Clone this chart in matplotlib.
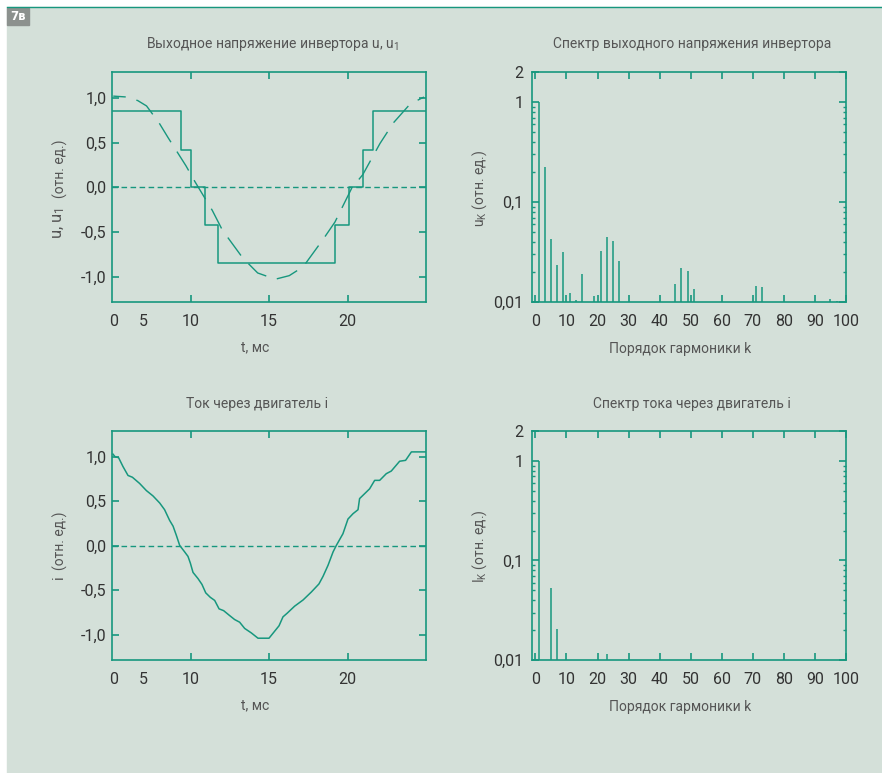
import numpy as np
import matplotlib
matplotlib.use('Agg')
import matplotlib.pyplot as plt
from matplotlib.patches import Rectangle
from matplotlib.lines import Line2D
from matplotlib.ticker import LogLocator, NullFormatter

# --- data ---
# stepped inverter voltage u (levels change at these instants, ms)
t_u = [5, 9.38, 10.03, 10.9, 11.77, 19.2, 20.08, 20.97, 21.64, 25]
u_vals = [0.85, 0.42, 0.0, -0.42, -0.85, -0.42, 0.0, 0.42, 0.85, 0.85]

# fundamental u1 (dashed)
t_u1 = [5.08, 5.94, 6.64, 7.2, 8.0, 8.59, 9.71, 10.29, 11.39, 12.03, 13.32, 14.28,
        15.4, 16.29, 17.18, 18.46, 19.2, 20.27, 20.97, 22.07, 22.92, 23.98, 24.87]
u1_vals = [1.02, 1.01, 0.97, 0.91, 0.72, 0.55, 0.24, 0.06, -0.26, -0.48, -0.79, -0.96,
           -1.03, -0.99, -0.89, -0.58, -0.39, -0.01, 0.14, 0.49, 0.72, 0.93, 1.01]

# motor current i
t_i = [5.06, 5.2, 5.42, 5.7, 6.02, 6.3, 6.76, 7.19, 7.61, 8.04, 8.35, 8.67, 8.89, 9.1,
       9.31, 9.63, 9.84, 9.99, 10.16, 10.48, 10.73, 10.97, 11.26, 11.54, 11.82, 12.11,
       12.49, 12.81, 13.13, 13.45, 13.87, 14.3, 15.0, 15.32, 15.64, 15.89, 16.15, 16.63,
       17.17, 17.7, 18.18, 18.44, 18.76, 19.08, 19.29, 19.71, 20.03, 20.35, 20.67, 20.77,
       21.09, 21.41, 21.73, 22.05, 22.47, 22.79, 23.32, 23.7, 24.07, 25.0]
i_vals = [1.03, 1.0, 0.99, 0.89, 0.79, 0.77, 0.7, 0.62, 0.56, 0.48, 0.405, 0.285, 0.22, 0.116,
          0.004, -0.07, -0.12, -0.195, -0.3, -0.37, -0.435, -0.53, -0.58, -0.615, -0.71, -0.73,
          -0.785, -0.83, -0.86, -0.93, -0.98, -1.04, -1.04, -0.97, -0.9, -0.8, -0.76, -0.68,
          -0.61, -0.52, -0.43, -0.345, -0.22, -0.07, 0.004, 0.135, 0.3, 0.36, 0.405, 0.53,
          0.585, 0.64, 0.735, 0.735, 0.81, 0.84, 0.95, 0.96, 1.055, 1.055]

# spectra
k_u = [1, 3, 5, 7, 9, 11, 13, 15, 19, 21, 23, 25, 27, 45, 47, 49, 51, 71, 73, 95, 97]
uk_vals = [1.0, 0.224, 0.0426, 0.0236, 0.0316, 0.0122, 0.0104, 0.0189, 0.0114, 0.0324,
           0.0446, 0.0405, 0.0256, 0.0153, 0.0217, 0.0203, 0.0134, 0.0145, 0.0141, 0.0106, 0.0102]
k_i = [1, 5, 7, 23]
ik_vals = [1.0, 0.0525, 0.0207, 0.0115]

time_ticks = [5.13, 6.97, 10, 15, 20]
time_labels = ['0', '5', '10', '15', '20']
lin_ticks = [-1, -0.5, 0, 0.5, 1]
lin_labels = ['-1,0', '-0,5', '0,0', '0,5', '1,0']
log_ticks = [0.01, 0.1, 1, 2]
log_labels = ['0,01', '0,1', '1', '2']
k_ticks = list(range(0, 101, 10))

TEAL = '#17977e'
BG = '#d4e0d9'
TXT = '#333333'
TTL = '#555555'

plt.rcParams['font.family'] = ['Roboto', 'DejaVu Sans']
plt.rcParams['mathtext.default'] = 'regular'

W, H = 882, 773
fig = plt.figure(figsize=(W / 100, H / 100), dpi=100)
fig.patches.append(Rectangle((7 / W, 0), 1, (H - 7) / H, transform=fig.transFigure,
                             color=BG, zorder=-10))
fig.lines.append(Line2D([7 / W, 1], [(H - 7) / H] * 2, transform=fig.transFigure,
                        color=TEAL, lw=1))
fig.patches.append(Rectangle((7 / W, (H - 25) / H), 22 / W, 17 / H, transform=fig.transFigure,
                             color='#8c918e', zorder=-5))
fig.text(18 / W, 1 - 16.5 / H, '7в', color='white', fontsize=8.5, fontweight='bold',
         family='DejaVu Sans', ha='center', va='center')


def make_ax(x0, y0, x1, y1):
    ax = fig.add_axes([x0 / W, 1 - y1 / H, (x1 - x0) / W, (y1 - y0) / H])
    ax.set_facecolor('none')
    for s in ax.spines.values():
        s.set_color(TEAL)
        s.set_linewidth(1.2)
    ax.tick_params(which='both', direction='in', top=True, right=True,
                   color=TEAL, labelcolor=TXT, labelsize=11.5)
    ax.tick_params(which='major', length=5, width=1.2)
    ax.tick_params(axis='x', which='major', pad=9)
    ax.tick_params(axis='y', which='major', pad=4)
    ax.tick_params(which='minor', length=2.5, width=1)
    return ax


def time_axes(ax, title, tx):
    ax.set_xlim(5, 25)
    ax.set_ylim(-1.285, 1.29)
    ax.set_xticks(time_ticks, time_labels)
    for tk in ax.xaxis.get_major_ticks()[:2]:
        tk.tick1line.set_visible(False)
        tk.tick2line.set_visible(False)
    ax.set_yticks(lin_ticks, lin_labels)
    ax.axhline(0, color=TEAL, lw=1, ls=(0, (4, 2.5)))
    ax.text(tx, 1.12, title, transform=ax.transAxes, ha='center', va='center',
            fontsize=10, color=TTL)
    ax.set_xlabel('t, мс', fontsize=10, color=TTL, va='center')
    ax.xaxis.set_label_coords(0.455, -0.198)


def spec_axes(ax, title, ylabel):
    ax.set_yscale('log')
    ax.set_xlim(-1.1, 100)
    ax.set_ylim(0.01, 2)
    ax.set_xticks(k_ticks)
    ax.set_yticks(log_ticks, log_labels)
    ax.yaxis.set_minor_locator(LogLocator(base=10, subs=np.arange(2, 10)))
    ax.yaxis.set_minor_formatter(NullFormatter())
    ax.tick_params(axis='y', which='major', pad=6)
    ax.text(0.509, 1.12, title, transform=ax.transAxes, ha='center', va='center',
            fontsize=10, color=TTL)
    ax.set_xlabel('Порядок гармоники k', fontsize=10, color=TTL, va='center')
    ax.xaxis.set_label_coords(0.471, -0.204)
    ax.set_ylabel(ylabel, fontsize=10, color=TTL, va='center')
    ax.yaxis.set_label_coords(-0.167, 0.495)


def side_label(ax, sym, size, ysym, yunit):
    # symbol a bit larger than the "(отн. ед.)" part, as in the picture
    ax.text(-0.168, ysym, sym, transform=ax.transAxes, rotation=90, fontsize=size,
            color=TTL, ha='center', va='center')
    ax.text(-0.166, yunit, '(отн. ед.)', transform=ax.transAxes, rotation=90,
            fontsize=10, color=TTL, ha='center', va='center')


# top left: inverter output voltage
ax1 = make_ax(112, 72, 426, 302)
time_axes(ax1, 'Выходное напряжение инвертора u, u$_1$', 0.509)
side_label(ax1, 'u, u$_1$', 12, 0.343, 0.578)
ax1.step(t_u, u_vals, where='post', color=TEAL, lw=1.1)
ax1.plot(t_u1, u1_vals, color=TEAL, lw=1.0, ls=(7, (16, 8)))

# top right: voltage spectrum
ax2 = make_ax(532, 72, 846, 302)
spec_axes(ax2, 'Спектр выходного напряжения инвертора', 'u$_K$ (отн. ед.)')
ax2.vlines(k_u, 0.01, uk_vals, color=TEAL, lw=1.1)

# bottom left: motor current
ax3 = make_ax(112, 431, 426, 660)
time_axes(ax3, 'Ток через двигатель i', 0.461)
side_label(ax3, 'i', 11, 0.362, 0.52)
ax3.plot(t_i, i_vals, color=TEAL, lw=1.1)

# bottom right: current spectrum
ax4 = make_ax(532, 431, 846, 660)
spec_axes(ax4, 'Спектр тока через двигатель i', 'I$_K$ (отн. ед.)')
ax4.vlines(k_i, 0.01, ik_vals, color=TEAL, lw=1.1)

fig.savefig('out.png', dpi=100, facecolor='white')
